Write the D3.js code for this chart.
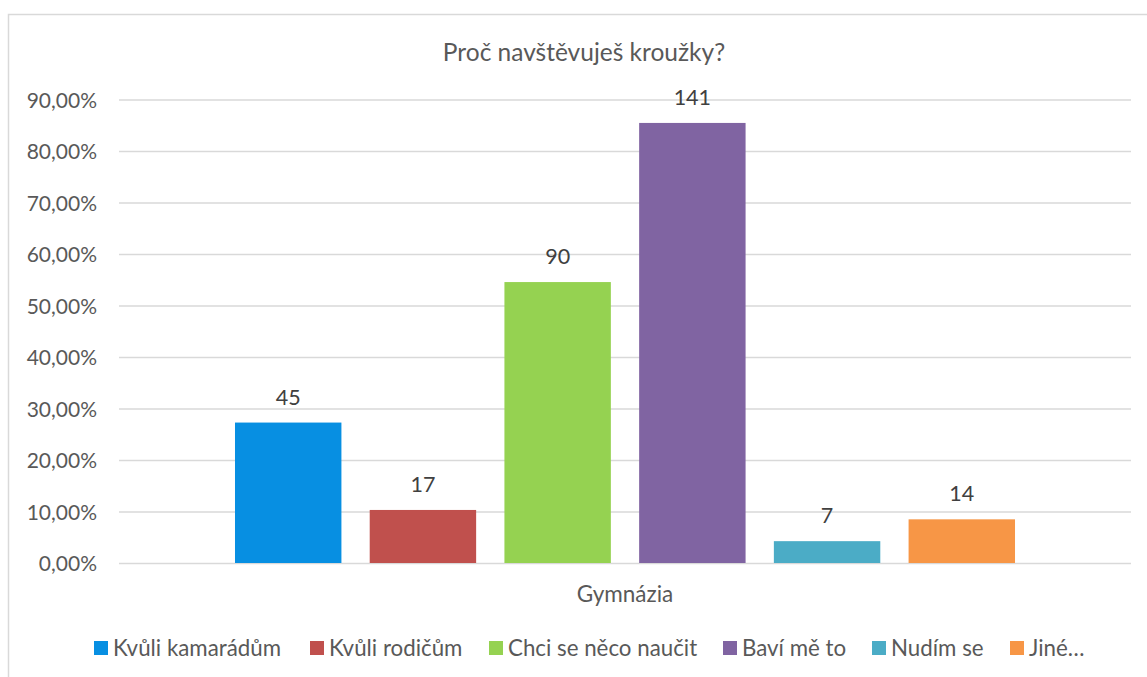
<!DOCTYPE html>
<html>
<head>
<meta charset="utf-8">
<script src="https://cdn.jsdelivr.net/npm/d3@7"></script>
<style>
    body { margin: 0; background: #fff; }
    svg { display: block; font-family: Lato, "Open Sans", sans-serif; }
</style>
</head>
<body>
<svg id="chart" width="1147" height="677"></svg>
<script>
// Data
const category = ["Gymnázia"];
const series = ["Kvůli kamarádům", "Kvůli rodičům", "Chci se něco naučit", "Baví mě to", "Nudím se", "Jiné…"];
const counts = [45, 17, 90, 141, 7, 14];
const shares = [27.27, 10.30, 54.55, 85.45, 4.24, 8.48];
const yTicks = [0, 10, 20, 30, 40, 50, 60, 70, 80, 90];
const colors = ["#078fe2", "#c0504d", "#95d251", "#8064a2", "#4bacc6", "#f79646"];

const svg = d3.select("#chart");
const margin = {top: 99.5, left: 119, right: 16, bottom: 114};
const width = 1147 - margin.left - margin.right;
const height = 677 - margin.top - margin.bottom;

// outer chart border
svg.append("rect")
    .attr("x", 8.5).attr("y", 14.5)
    .attr("width", 1200).attr("height", 700)
    .attr("fill", "none")
    .attr("stroke", "#d9d9d9")
    .attr("stroke-width", 1.5);

svg.append("text")
    .attr("x", 584).attr("y", 61)
    .attr("text-anchor", "middle")
    .attr("font-size", 24.5)
    .attr("fill", "#595959")
    .text("Proč navštěvuješ kroužky?");

const g = svg.append("g").attr("transform", `translate(${margin.left},${margin.top})`);

const yScale = d3.scaleLinear().domain([0, 90]).range([height, 0]);

const x0 = d3.scaleBand().domain(category).range([0, width]).paddingOuter(0.126);
const x1 = d3.scaleBand().domain(series).range([0, x0.bandwidth()])
    .paddingInner(0.21).paddingOuter(0.105);

// gridlines
const yAxis = d3.axisLeft(yScale)
    .tickValues(yTicks)
    .tickSize(-width)
    .tickPadding(22)
    .tickFormat(d => d3.format(".2f")(d).replace(".", ",") + "%");

g.append("g")
    .call(yAxis)
    .call(s => s.select(".domain").remove())
    .call(s => s.selectAll(".tick line").attr("stroke", "#d9d9d9").attr("stroke-width", 1.5))
    .call(s => s.selectAll(".tick text")
        .attr("fill", "#595959")
        .attr("font-size", 21)
        .attr("font-family", "Lato, sans-serif")
        .attr("dy", "0.36em"));

const rows = series.map((s, i) => ({name: s, count: counts[i], share: shares[i], color: colors[i]}));

const grp = g.selectAll(".cat")
    .data(category)
    .join("g")
    .attr("transform", d => `translate(${x0(d)},0)`);

grp.selectAll("rect")
    .data(rows)
    .join("rect")
    .attr("x", d => x1(d.name))
    .attr("y", d => yScale(d.share))
    .attr("width", x1.bandwidth())
    .attr("height", d => height - yScale(d.share))
    .attr("fill", d => d.color);

grp.selectAll(".val")
    .data(rows)
    .join("text")
    .attr("class", "val")
    .attr("x", d => x1(d.name) + x1.bandwidth() / 2)
    .attr("y", d => yScale(d.share) - 18)
    .attr("text-anchor", "middle")
    .attr("font-size", 21.5)
    .attr("fill", "#404040")
    .text(d => d.count);

// category axis label
grp.append("text")
    .attr("x", x0.bandwidth() / 2)
    .attr("y", height + 39)
    .attr("text-anchor", "middle")
    .attr("font-size", 22.5)
    .attr("fill", "#595959")
    .text(d => d);

// legend
const legendX = [94, 310, 489, 723, 872, 1010];
const legend = svg.append("g").attr("transform", "translate(0,648)");
const items = legend.selectAll("g")
    .data(rows)
    .join("g")
    .attr("transform", (d, i) => `translate(${legendX[i]},0)`);

items.append("rect")
    .attr("x", 0).attr("y", -7)
    .attr("width", 14).attr("height", 14)
    .attr("fill", d => d.color);

items.append("text")
    .attr("x", 19).attr("y", 0)
    .attr("dy", "0.36em")
    .attr("font-size", 22.3)
    .attr("fill", "#595959")
    .text(d => d.name);
</script>
</body>
</html>
